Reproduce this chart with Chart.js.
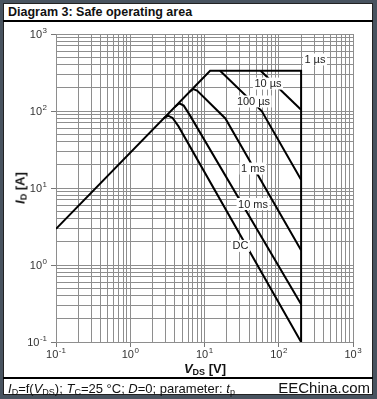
<!DOCTYPE html>
<html>
<head>
<meta charset="utf-8">
<script src="https://cdn.jsdelivr.net/npm/chart.js@4/dist/chart.umd.min.js"></script>
<style>
  html, body { margin: 0; padding: 0; }
  body { width: 377px; height: 399px; background: #48535f; position: relative; overflow: hidden;
         font-family: "Liberation Sans", Arial, sans-serif; color: #111; }
  #panel { position: absolute; left: 3px; top: 3px; width: 368px; height: 390px; background: #fff; border: 1px solid #222; }
  #title { position: absolute; left: 8px; top: 5px; font-size: 12.5px; font-weight: bold; }
  .rule { position: absolute; left: 3px; width: 370px; height: 2px; background: #000; }
  #chartBox { position: absolute; left: 0; top: 23px; width: 377px; height: 355px; }
  #ytitle { position: absolute; left: 20px; top: 188px; transform: translate(-50%, -50%) rotate(-90deg);
            font-size: 13px; font-weight: bold; white-space: nowrap; }
  #xtitle { position: absolute; left: 205px; top: 368px; transform: translate(-50%, -50%);
            font-size: 13px; font-weight: bold; white-space: nowrap; }
  sub { font-size: 9px; vertical-align: baseline; position: relative; top: 2px; font-weight: normal; }
  #ytitle sub, #xtitle sub { font-weight: bold; }
  #foot { position: absolute; left: 8px; top: 381px; font-size: 13px; white-space: nowrap; }
  #brand { position: absolute; right: 7px; top: 379px; font-size: 15px; color: #111; }
</style>
</head>
<body>
<div id="panel"></div>
<div id="title">Diagram 3: Safe operating area</div>
<div class="rule" style="top:20px"></div>
<div class="rule" style="top:377px"></div>
<div id="chartBox"><canvas id="soa" width="377" height="355"></canvas></div>
<div id="ytitle"><i>I</i><sub>D</sub> [A]</div>
<div id="xtitle"><i>V</i><sub>DS</sub> [V]</div>
<div id="foot"><i>I</i><sub>D</sub>=f(<i>V</i><sub>DS</sub>); <i>T</i><sub>C</sub>=25 °C; <i>D</i>=0; parameter: <i>t</i><sub>p</sub></div>
<div id="brand">EEChina.com</div>
<script>
// Data (V in volts, I in amperes)
const envelopeV = [0.1, 11.9, 200, 200];
const envelopeI = [2.95, 333, 333, 0.1];
const us10V = [57, 200];
const us10I = [333, 104];
const us100V = [16.2, 59, 200];
const us100I = [333, 100, 12.8];
const ms1V = [6.31, 7.08, 7.94, 19.1, 200];
const ms1I = [177.8, 192.8, 184, 80, 1.55];
const ms10V = [3.98, 4.57, 5.25, 6.31, 200];
const ms10I = [112.7, 126, 117.5, 89, 0.31];
const dcV = [2.82, 3.24, 3.72, 4.47, 200];
const dcI = [80.2, 87, 81.3, 63.1, 0.1];

// Curve labels and where they sit
const curveLabels = ['1 µs', '10 µs', '100 µs', '1 ms', '10 ms', 'DC'];
const curveLabelV = [307, 71.6, 45.7, 45, 45, 30.5];
const curveLabelI = [467, 227, 133, 17.9, 6.2, 1.77];

// Axis decades and their exponent labels
const xExp = [-1, 0, 1, 2, 3];
const yExp = [-1, 0, 1, 2, 3];
const xTickLabels = ['-1', '0', '1', '2', '3'];
const yTickLabels = ['-1', '0', '1', '2', '3'];

function toPoints(vs, is) {
    return vs.map((v, k) => ({ x: v, y: is[k] }));
}

function logTicks(lo, hi) {
    let t = [];
    for (let e = lo; e < hi; e++) {
        for (let m = 1; m < 10; m++) {
            t.push({ value: m * Math.pow(10, e), major: m === 1 });
        }
    }
    t.push({ value: Math.pow(10, hi), major: true });
    return t;
}

function curve(pts) {
    return { data: pts, borderColor: '#000', borderWidth: 2, pointRadius: 0, fill: false, tension: 0 };
}

// draws "10" with a raised exponent
function drawPower(c, exp, x, y, align) {
    c.font = '11px "Liberation Sans", Arial, sans-serif';
    let wb = c.measureText('10').width;
    c.font = '8px "Liberation Sans", Arial, sans-serif';
    let we = c.measureText(exp).width;
    let w = wb + we + 0.5;
    let left = align === 'right' ? x - w : x - w / 2;
    c.fillStyle = '#333';
    c.textBaseline = 'alphabetic';
    c.textAlign = 'left';
    c.font = '11px "Liberation Sans", Arial, sans-serif';
    c.fillText('10', left, y);
    c.font = '8px "Liberation Sans", Arial, sans-serif';
    c.fillText(exp, left + wb + 0.5, y - 5);
}

const textPlugin = {
    id: 'soaText',
    afterDatasetsDraw(chart) {
        const c = chart.ctx;
        const xs = chart.scales.x, ys = chart.scales.y;
        c.save();
        c.font = '11px "Liberation Sans", Arial, sans-serif';
        c.textAlign = 'center';
        c.textBaseline = 'middle';
        curveLabels.forEach((txt, k) => {
            let px = xs.getPixelForValue(curveLabelV[k]);
            let py = ys.getPixelForValue(curveLabelI[k]);
            let w = c.measureText(txt).width;
            c.fillStyle = '#fff';
            c.fillRect(px - w / 2 - 1.5, py - 6, w + 3, 12);
            c.fillStyle = '#222';
            c.fillText(txt, px, py + 0.5);
        });
        c.restore();
    },
    afterDraw(chart) {
        const c = chart.ctx;
        const xs = chart.scales.x, ys = chart.scales.y;
        const area = chart.chartArea;
        c.save();
        xExp.forEach((e, k) => {
            drawPower(c, xTickLabels[k], xs.getPixelForValue(Math.pow(10, e)), area.bottom + 16, 'center');
        });
        yExp.forEach((e, k) => {
            drawPower(c, yTickLabels[k], area.left - 9, ys.getPixelForValue(Math.pow(10, e)) + 4, 'right');
        });
        c.restore();
    }
};

const gridStyle = {
    color: '#8e8e8e',
    lineWidth: 1,
    tickLength: 5,
    tickColor: (ctx) => (ctx.tick && ctx.tick.major ? '#777' : 'rgba(0,0,0,0)')
};

const soaCanvas = document.getElementById('soa');
const soaChart = new Chart(soaCanvas, {
    type: 'line',
    data: {
        datasets: [
            curve(toPoints(envelopeV, envelopeI)),
            curve(toPoints(us10V, us10I)),
            curve(toPoints(us100V, us100I)),
            curve(toPoints(ms1V, ms1I)),
            curve(toPoints(ms10V, ms10I)),
            curve(toPoints(dcV, dcI))
        ]
    },
    options: {
        responsive: false,
        animation: false,
        layout: { padding: { left: 0, right: 24, top: 11, bottom: 0 } },
        plugins: { legend: { display: false }, tooltip: { enabled: false } },
        scales: {
            x: {
                type: 'logarithmic',
                min: 0.1,
                max: 1000,
                afterBuildTicks: (s) => { s.ticks = logTicks(-1, 3); },
                afterFit: (s) => { s.height = 36; },
                ticks: { display: false, autoSkip: false },
                grid: gridStyle,
                border: { display: false }
            },
            y: {
                type: 'logarithmic',
                min: 0.1,
                max: 1000,
                afterBuildTicks: (s) => { s.ticks = logTicks(-1, 3); },
                afterFit: (s) => { s.width = 56; },
                ticks: { display: false, autoSkip: false },
                grid: gridStyle,
                border: { display: false }
            }
        }
    },
    plugins: [textPlugin]
});
</script>
</body>
</html>
